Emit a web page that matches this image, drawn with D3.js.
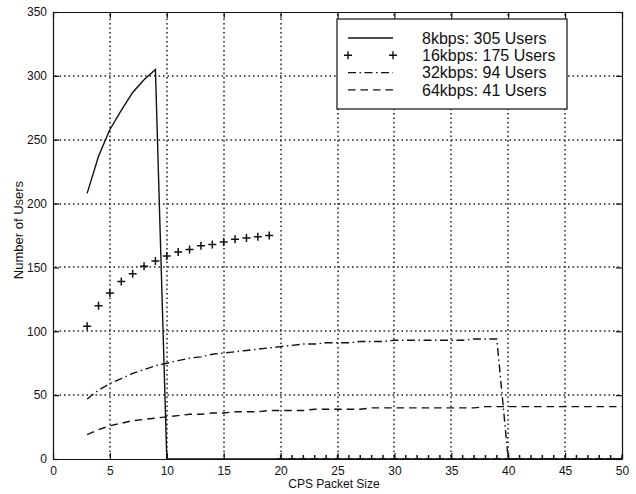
<!DOCTYPE html>
<html>
<head>
<meta charset="utf-8">
<script src="https://cdn.jsdelivr.net/npm/d3@7"></script>
<style>
  html, body { margin: 0; padding: 0; background: #fff; }
  svg { display: block; font-family: "Liberation Sans", Arial, Helvetica, sans-serif; }
  .axis path, .axis line { stroke: #111; stroke-width: 1.2; }
  .axis text { fill: #111; font-size: 12px; }
</style>
</head>
<body>
<svg id="chart" width="636" height="494"></svg>
<script>
// CPS packet sizes (x values shared by every series)
const packetSizes = [3,4,5,6,7,8,9,
  10,11,12,13,14,15,16,17,18,19,
  20,21,22,23,24,25,26,27,28,29,
  30,31,32,33,34,35,36,37,38,39,
  40,41,42,43,44,45,46,47,48,49,
  50];

// Number of supported users per voice rate
const users8kbps = [208,237,258,273,287,297,305,
  0,0,0,0,0,0,0,0,0,0,
  0,0,0,0,0,0,0,0,0,0,
  0,0,0,0,0,0,0,0,0,0,
  0,0,0,0,0,0,0,0,0,0,
  0];
const users16kbps = [104,120,130,139,145,151,155,
  159,162,164,167,168,170,172,173,174,175,
  0,0,0,0,0,0,0,0,0,0,
  0,0,0,0,0,0,0,0,0,0,
  0,0,0,0,0,0,0,0,0,0,
  0];
const users32kbps = [47,54,59,63,67,70,73,
  75,77,79,80,82,83,84,85,86,87,
  88,89,90,90,91,91,91,92,92,92,
  93,93,93,93,93,93,93,94,94,94,
  0,0,0,0,0,0,0,0,0,0,
  0];
const users64kbps = [19,23,26,28,30,31,32,
  33,34,35,35,36,36,37,37,37,38,
  38,38,38,39,39,39,39,39,40,40,
  40,40,40,40,40,40,40,40,41,41,
  41,41,41,41,41,41,41,41,41,41,
  41];

const legendLabels = ["8kbps: 305 Users", "16kbps: 175 Users", "32kbps: 94 Users", "64kbps: 41 Users"];
const xTicks = [0,5,10,15,20,25,30,35,40,45,50];
const yTicks = [0,50,100,150,200,250,300,350];

const svg = d3.select("#chart");
const plotLeft = 53, plotRight = 622, plotTop = 12, plotBottom = 459;

const x = d3.scaleLinear().domain([0, 50]).range([plotLeft, plotRight]);
const y = d3.scaleLinear().domain([0, 350]).range([plotBottom, plotTop]);

svg.append("defs").append("clipPath").attr("id", "plotClip")
  .append("rect").attr("x", plotLeft).attr("y", plotTop)
  .attr("width", plotRight - plotLeft).attr("height", plotBottom - plotTop);

// dotted grid: each grid line is a row of small square dots
const dotStep = 4.5, dotSize = 1.6;
const grid = svg.append("g").attr("fill", "#333");
xTicks.slice(1, -1).forEach(t => {
  const gx = Math.round(x(t));
  grid.append("g").selectAll("rect").data(d3.range(plotTop + 2, plotBottom - 1, dotStep)).join("rect")
    .attr("x", gx - dotSize / 2).attr("y", d => d).attr("width", dotSize).attr("height", dotSize);
});
yTicks.slice(1, -1).forEach(t => {
  const gy = Math.round(y(t));
  grid.append("g").selectAll("rect").data(d3.range(plotLeft + 2, plotRight - 1, dotStep)).join("rect")
    .attr("x", d => d).attr("y", gy - dotSize / 2).attr("width", dotSize).attr("height", dotSize);
});

// series
const plot = svg.append("g").attr("clip-path", "url(#plotClip)");
const line = vals => d3.line().x((d, i) => x(packetSizes[i])).y(d => y(d))(vals);

const dashDot = "8,3.5,1.5,3.5", dashed = "7.5,5";
const series = [
  { vals: users8kbps, dash: null },
  { vals: users32kbps, dash: dashDot },
  { vals: users64kbps, dash: dashed }
];
series.forEach(s => {
  plot.append("path").attr("d", line(s.vals)).attr("fill", "none")
    .attr("stroke", "#111").attr("stroke-width", 1.4)
    .attr("stroke-dasharray", s.dash);
});

const plusPath = (cx, cy, r) => `M${cx - r},${cy}H${cx + r}M${cx},${cy - r}V${cy + r}`;
plot.append("g").selectAll("path").data(users16kbps).join("path")
  .attr("d", (d, i) => plusPath(x(packetSizes[i]), y(d), 4))
  .attr("stroke", "#111").attr("stroke-width", 1.5).attr("fill", "none");

// axes with inward ticks on all four sides
svg.append("g").attr("class", "axis").attr("transform", `translate(0,${plotBottom})`)
  .call(d3.axisBottom(x).tickValues(xTicks).tickSizeInner(-6).tickSizeOuter(0).tickPadding(7));
svg.append("g").attr("class", "axis").attr("transform", `translate(0,${plotTop})`)
  .call(d3.axisTop(x).tickValues(xTicks).tickSizeInner(-6).tickSizeOuter(0).tickFormat(""));
svg.append("g").attr("class", "axis").attr("transform", `translate(${plotLeft},0)`)
  .call(d3.axisLeft(y).tickValues(yTicks).tickSizeInner(-6).tickSizeOuter(0).tickPadding(6));
svg.append("g").attr("class", "axis").attr("transform", `translate(${plotRight},0)`)
  .call(d3.axisRight(y).tickValues(yTicks).tickSizeInner(-6).tickSizeOuter(0).tickFormat(""));

// axis titles
svg.append("text").attr("x", 334).attr("y", 488).attr("text-anchor", "middle")
  .attr("font-size", 12).attr("fill", "#111").text("CPS Packet Size");
svg.append("text").attr("transform", "translate(22.5,230) rotate(-90)")
  .attr("text-anchor", "middle").attr("font-size", 13).attr("fill", "#111")
  .text("Number of Users");

// legend
const lg = svg.append("g");
lg.append("rect").attr("x", 337).attr("y", 19).attr("width", 230).attr("height", 90)
  .attr("fill", "#fff").attr("stroke", "#111").attr("stroke-width", 1.2);
const rowY = i => 38 + i * 17.3;
legendLabels.forEach((label, i) => {
  const cy = rowY(i);
  if (i === 1) {
    lg.append("path").attr("d", plusPath(348, cy, 4) + plusPath(393, cy, 4))
      .attr("stroke", "#111").attr("stroke-width", 1.4);
  } else {
    const dash = i === 0 ? null : (i === 2 ? dashDot : dashed);
    lg.append("line").attr("x1", 348).attr("x2", 393).attr("y1", cy).attr("y2", cy)
      .attr("stroke", "#111").attr("stroke-width", 1.4).attr("stroke-dasharray", dash);
  }
  lg.append("text").attr("x", 422).attr("y", cy).attr("dy", "0.36em")
    .attr("font-size", 16).attr("fill", "#111").text(label);
});
</script>
</body>
</html>
